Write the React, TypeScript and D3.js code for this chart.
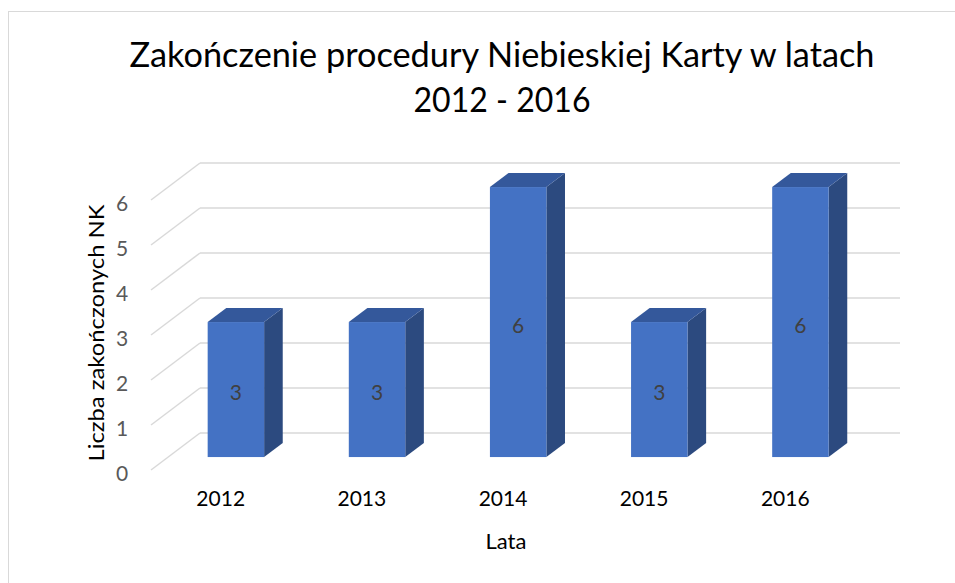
import React from "react";
import * as d3 from "d3";

const years = ["2012", "2013", "2014", "2015", "2016"];
const values = [3, 3, 6, 3, 6];
const yTicks = [0, 1, 2, 3, 4, 5, 6];
const titleLines = ["Zakończenie procedury Niebieskiej Karty w latach", "2012 - 2016"];
const yAxisTitle = "Liczba zakończonych NK";
const xAxisTitle = "Lata";

const W = 955;
const H = 583;
const FONT = "Lato, 'Open Sans', sans-serif";

// oblique depth vector of the floor (back wall -> front edge)
const DX = -49;
const DY = 37;
const zFront = 0.65;
const zBack = 0.27;

export default function App() {
  const x = d3
    .scaleBand<string>()
    .domain(years)
    .range([200, 900])
    .paddingInner(0.6)
    .paddingOuter(0.28);
  const y = d3.scaleLinear().domain([0, 6]).range([433, 163]);
  const bw = x.bandwidth();

  const pt = (px: number, py: number, z: number) => [px + DX * z, py + DY * z];
  const poly = (pts: number[][]) => pts.map((p) => p.join(",")).join(" ");

  return (
    <svg
      width={W}
      height={H}
      style={{ position: "absolute", left: 0, top: 0, background: "#fff" }}
      fontFamily={FONT}
    >
      <rect x={8.5} y={11.5} width={W + 10} height={H + 10} fill="#fff" stroke="#D9D9D9" strokeWidth={1} />

      {/* title */}
      <text x={502} y={67} textAnchor="middle" fontSize={34} fill="#000" textLength={745} lengthAdjust="spacingAndGlyphs">
        {titleLines[0]}
      </text>
      <text x={502} y={112} textAnchor="middle" fontSize={34} fill="#000" textLength={177} lengthAdjust="spacingAndGlyphs">
        {titleLines[1]}
      </text>

      {/* gridlines: back wall + floor diagonals */}
      {yTicks.map((t) => {
        const yy = y(t);
        const [fx, fy] = pt(200, yy, 1);
        return (
          <g key={t} stroke="#D9D9D9" strokeWidth={1.5} fill="none">
            <line x1={200} y1={yy} x2={900} y2={yy} />
            <line x1={200} y1={yy} x2={fx} y2={fy} />
          </g>
        );
      })}

      {/* y tick labels */}
      {yTicks.map((t) => (
        <text
          key={t}
          x={122}
          y={y(t) + DY + 2}
          textAnchor="middle"
          dominantBaseline="central"
          fontSize={21}
          fill="#595959"
        >
          {t}
        </text>
      ))}

      {/* bars */}
      {years.map((yr, i) => {
        const bx = x(yr) as number;
        const v = values[i];
        const [flx, fty] = pt(bx, y(v), zFront);
        const [, fby] = pt(bx, y(0), zFront);
        const frx = flx + bw;
        const [blx, bty] = pt(bx, y(v), zBack);
        const [, bby] = pt(bx, y(0), zBack);
        const brx = blx + bw;
        return (
          <g key={yr}>
            <polygon
              points={poly([
                [frx, fty],
                [brx, bty],
                [brx, bby],
                [frx, fby],
              ])}
              fill="#2C4A7F"
            />
            <polygon
              points={poly([
                [flx, fty],
                [frx, fty],
                [brx, bty],
                [blx, bty],
              ])}
              fill="#34589B"
            />
            <rect x={flx} y={fty} width={bw} height={fby - fty} fill="#4472C4" />
            <text
              x={flx + bw / 2}
              y={(fty + fby) / 2 + 2}
              textAnchor="middle"
              dominantBaseline="central"
              fontSize={21}
              fill="#404040"
            >
              {v}
            </text>
          </g>
        );
      })}

      {/* category labels */}
      {years.map((yr) => {
        const cx = (x(yr) as number) + bw / 2 + DX + 2;
        return (
          <text key={yr} x={cx} y={506} textAnchor="middle" fontSize={21} fill="#000">
            {yr}
          </text>
        );
      })}

      {/* axis titles */}
      <text x={506} y={549} textAnchor="middle" fontSize={22} fill="#000">
        {xAxisTitle}
      </text>
      <text
        transform={`translate(95, 333) rotate(-90)`}
        textAnchor="middle"
        dominantBaseline="central"
        fontSize={22}
        fill="#000"
        textLength={257}
        lengthAdjust="spacingAndGlyphs"
      >
        {yAxisTitle}
      </text>
    </svg>
  );
}
